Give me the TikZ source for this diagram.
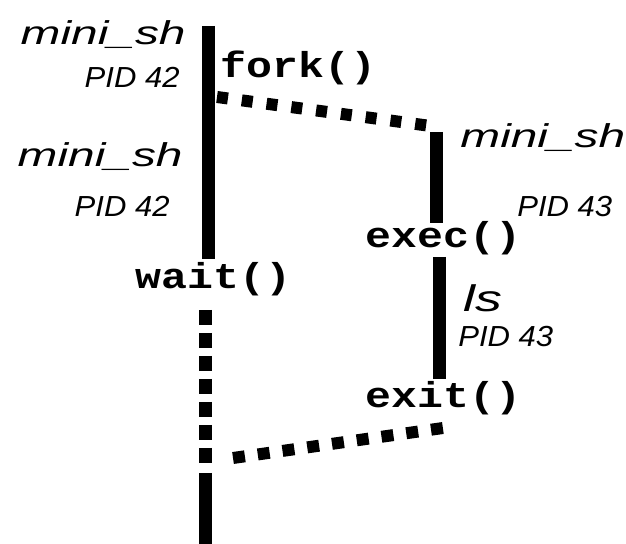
\documentclass[tikz,border=0pt]{standalone}
\usepackage{fontspec}
\usetikzlibrary{positioning}
\newfontfamily\procfont[FakeStretch=1.45]{Liberation Sans}
\newfontfamily\pidfont[FakeStretch=1.07]{Liberation Sans}
\newfontfamily\callfont[FakeStretch=1.2]{Liberation Mono}

\tikzset{
  proc/.style={inner sep=0, font=\procfont\itshape\fontsize{16.5}{18}\selectfont},
  pid/.style={inner sep=0, font=\pidfont\itshape\fontsize{14.5}{16}\selectfont},
  call/.style={inner sep=0, font=\callfont\bfseries\fontsize{18}{20}\selectfont},
  life/.style={line width=6.5pt},
  msg/.style={line width=6pt, dash pattern=on 5.5pt off 7pt},
}

\begin{document}
\begin{tikzpicture}[x=0.5pt, y=-0.5pt]
        \useasboundingbox (0,0) rectangle (626,544);
        % points on the time lines %
        \coordinate (p0) at (208,26);
        \coordinate (p1) at (208,259);
        \coordinate (w0) at (205,310);
        \coordinate (w1) at (205,465);
        \coordinate (w2) at (205,473);
        \coordinate (w3) at (205,544);
        \coordinate (c0) at (436,132);
        \coordinate (c1) at (436,223);
        \coordinate (c2) at (439,257);
        \coordinate (c3) at (439,379);
        \coordinate (f0) at (217,97);
        \coordinate (f1) at (438,127);
        \coordinate (e0) at (450,427);
        \coordinate (e1) at (233,458);
        % nodes %
        \node[proc, anchor=base east] (sh1) at (186,45) {mini\_sh};
        \node[pid, anchor=base east] (pid1) at (180,88) {PID 42};
        \node[proc, anchor=base east] (sh2) at (183,167) {mini\_sh};
        \node[pid, anchor=base east] (pid2) at (170,217) {PID 42};
        \node[call, anchor=base west] (fork) at (220,78) {fork()};
        \node[call, anchor=base west] (wait) at (135,289) {wait()};
        \node[proc, anchor=base west] (sh3) at (460,148) {mini\_sh};
        \node[pid, anchor=base west] (pid3) at (517,217) {PID 43};
        \node[call, anchor=base west] (exec) at (365,248) {exec()};
        \node[proc, font=\procfont\itshape\fontsize{18.5}{20}\selectfont, anchor=base west] (ls) at (463,312) {ls};
        \node[pid, anchor=base west] (pid4) at (458,347) {PID 43};
        \node[call, anchor=base west] (exit) at (365,408) {exit()};
        % edges %
        \draw[life] (p0) -- (p1);
        \draw[life, dash pattern=on 7.5pt off 4pt] (w0) -- (w1);
        \draw[life] (w2) -- (w3);
        \draw[life] (c0) -- (c1);
        \draw[life] (c2) -- (c3);
        \draw[msg] (f0) -- (f1);
        \draw[msg, dash pattern=on 6pt off 6.5pt] (e1) -- (e0);
\end{tikzpicture}
\end{document}
